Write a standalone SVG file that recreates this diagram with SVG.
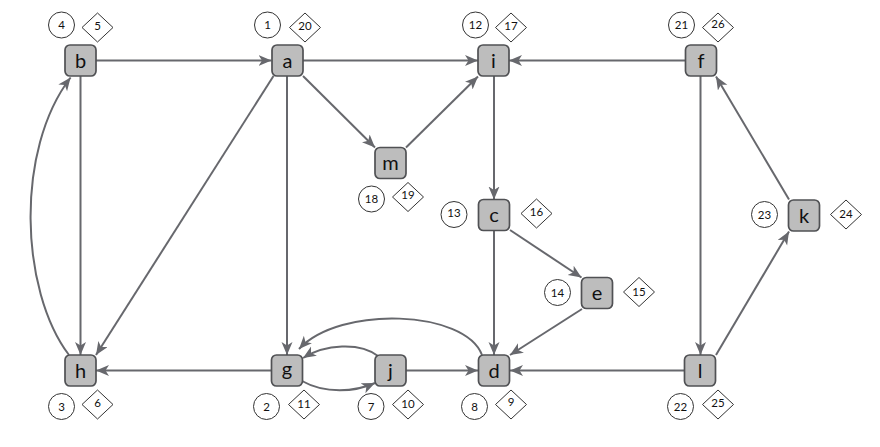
<svg xmlns="http://www.w3.org/2000/svg" width="880" height="447" viewBox="0 0 880 447">
<defs>
<marker id="ar" markerUnits="userSpaceOnUse" markerWidth="14" markerHeight="12" refX="13" refY="5.5" orient="auto">
<path d="M0,0 L13,5.5 L0,11 L3.5,5.5 z" fill="#67686d"/>
</marker>
<style>
.node rect{fill:#bdbdbd;stroke:#505154;stroke-width:1.7}
.node text.n{font-family:Lato,"Open Sans",sans-serif;font-size:20px;fill:#111;text-anchor:middle}
.lab{fill:#fff;stroke:#333;stroke-width:1}
.node text.l{font-family:Lato,"Open Sans",sans-serif;font-size:11.5px;fill:#111;text-anchor:middle}
#edges path{fill:none;stroke:#67686d;stroke-width:2;marker-end:url(#ar)}
</style>
</defs>
<rect width="880" height="447" fill="#fff"/>
<g id="edges">
<path d="M96,60.5 L271.5,60.5"/>
<path d="M303,60.5 L478,60.5"/>
<path d="M685.5,60.5 L509,60.5"/>
<path d="M303,76 L375,147.5"/>
<path d="M406,147.5 L478,76.5"/>
<path d="M273.5,76 L96,355"/>
<path d="M287,76 L287,355"/>
<path d="M80.5,76 L80.5,355"/>
<path d="M69,355 C20,290 15,150 70.6,77.5"/>
<path d="M494,76 L494,199.5"/>
<path d="M494,230.5 L494,355"/>
<path d="M510,230 L581.5,277.5"/>
<path d="M582,309 L510,355"/>
<path d="M482,355 C465,310 340,305 299,349"/>
<path d="M271,370.5 L96,370.5"/>
<path d="M378,356 C360,342 325,344 303,358"/>
<path d="M302,381 C325,394 355,392 375,383"/>
<path d="M406,370.5 L478,370.5"/>
<path d="M684.5,370.5 L510,370.5"/>
<path d="M700.5,76 L700.5,355"/>
<path d="M716,355 L789,231.5"/>
<path d="M789,199.5 L716,76.5"/>
</g>
<g id="node-b" class="node"><rect x="65" y="45" width="31" height="31" rx="5"/><text class="n" x="80.5" y="67.5">b</text>
<circle class="lab" cx="61.5" cy="25" r="13"/><text class="l" x="61.5" y="29">4</text>
<path class="lab" d="M97.5,13 L113,27.5 L97.5,42 L82,27.5 z"/><text class="l" x="97.5" y="30">5</text></g>
<g id="node-a" class="node"><rect x="272" y="45" width="31" height="31" rx="5"/><text class="n" x="287.5" y="67.5">a</text>
<circle class="lab" cx="267.5" cy="25" r="13"/><text class="l" x="267.5" y="29">1</text>
<path class="lab" d="M305,13 L320.5,27.5 L305,42 L289.5,27.5 z"/><text class="l" x="305" y="30">20</text></g>
<g id="node-i" class="node"><rect x="478" y="45" width="31" height="31" rx="5"/><text class="n" x="493.5" y="67.5">i</text>
<circle class="lab" cx="475.5" cy="25" r="13"/><text class="l" x="475.5" y="29">12</text>
<path class="lab" d="M511,13 L526.5,27.5 L511,42 L495.5,27.5 z"/><text class="l" x="511" y="30">17</text></g>
<g id="node-f" class="node"><rect x="685.5" y="45" width="31" height="31" rx="5"/><text class="n" x="701" y="67.5">f</text>
<circle class="lab" cx="681.5" cy="25" r="13"/><text class="l" x="681.5" y="29">21</text>
<path class="lab" d="M718,13 L733.5,27.5 L718,42 L702.5,27.5 z"/><text class="l" x="718" y="28">26</text></g>
<g id="node-m" class="node"><rect x="375" y="147.5" width="31" height="31" rx="5"/><text class="n" x="390.5" y="169.5">m</text>
<circle class="lab" cx="371.5" cy="199" r="13"/><text class="l" x="371.5" y="203">18</text>
<path class="lab" d="M408,182.5 L423.5,197 L408,211.5 L392.5,197 z"/><text class="l" x="408" y="199">19</text></g>
<g id="node-c" class="node"><rect x="478.5" y="199.5" width="31" height="31" rx="5"/><text class="n" x="494" y="221.5">c</text>
<circle class="lab" cx="454" cy="214.5" r="13"/><text class="l" x="454" y="217">13</text>
<path class="lab" d="M536.5,199 L552,213.5 L536.5,228 L521,213.5 z"/><text class="l" x="536.5" y="216">16</text></g>
<g id="node-e" class="node"><rect x="581.5" y="277.5" width="31" height="31" rx="5"/><text class="n" x="597" y="299.5">e</text>
<circle class="lab" cx="557.5" cy="292.5" r="13"/><text class="l" x="557.5" y="296.5">14</text>
<path class="lab" d="M639,277.5 L654.5,292 L639,306.5 L623.5,292 z"/><text class="l" x="639" y="296">15</text></g>
<g id="node-k" class="node"><rect x="788.5" y="200" width="31" height="31" rx="5"/><text class="n" x="804" y="222.5">k</text>
<circle class="lab" cx="764.5" cy="214.5" r="13"/><text class="l" x="764.5" y="218.5">23</text>
<path class="lab" d="M846,200 L861.5,214.5 L846,229 L830.5,214.5 z"/><text class="l" x="846" y="218">24</text></g>
<g id="node-h" class="node"><rect x="65" y="355" width="31" height="31" rx="5"/><text class="n" x="80.5" y="377.5">h</text>
<circle class="lab" cx="61.5" cy="406.5" r="13"/><text class="l" x="61.5" y="410.5">3</text>
<path class="lab" d="M97.5,390 L113,404.5 L97.5,419 L82,404.5 z"/><text class="l" x="97.5" y="407">6</text></g>
<g id="node-g" class="node"><rect x="271.5" y="355" width="31" height="31" rx="5"/><text class="n" x="287" y="375.5">g</text>
<circle class="lab" cx="266.5" cy="406.5" r="13"/><text class="l" x="266.5" y="410.5">2</text>
<path class="lab" d="M304,390 L319.5,404.5 L304,419 L288.5,404.5 z"/><text class="l" x="304" y="408">11</text></g>
<g id="node-j" class="node"><rect x="375" y="355" width="31" height="31" rx="5"/><text class="n" x="390.5" y="377.5">j</text>
<circle class="lab" cx="371" cy="406.5" r="13"/><text class="l" x="371" y="410.5">7</text>
<path class="lab" d="M408,390 L423.5,404.5 L408,419 L392.5,404.5 z"/><text class="l" x="408" y="407.5">10</text></g>
<g id="node-d" class="node"><rect x="478.5" y="355" width="31" height="31" rx="5"/><text class="n" x="494" y="377.5">d</text>
<circle class="lab" cx="474.5" cy="406.5" r="13"/><text class="l" x="474.5" y="410.5">8</text>
<path class="lab" d="M511,390 L526.5,404.5 L511,419 L495.5,404.5 z"/><text class="l" x="511" y="406">9</text></g>
<g id="node-l" class="node"><rect x="684.5" y="355" width="31" height="31" rx="5"/><text class="n" x="700" y="377.5">l</text>
<circle class="lab" cx="680.5" cy="406.5" r="13"/><text class="l" x="680.5" y="410.5">22</text>
<path class="lab" d="M718,390 L733.5,404.5 L718,419 L702.5,404.5 z"/><text class="l" x="718" y="407">25</text></g>
</svg>
